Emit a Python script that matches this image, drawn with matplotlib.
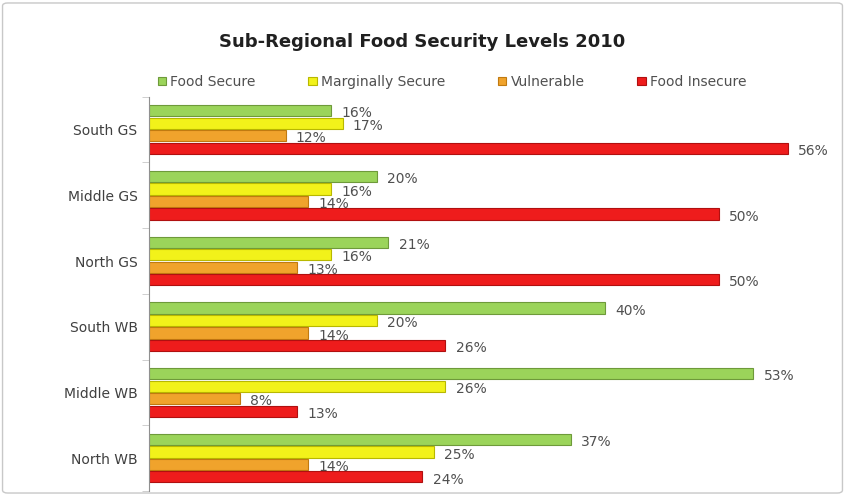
import matplotlib.pyplot as plt
import numpy as np
from matplotlib.patches import FancyBboxPatch

REGIONS = ['South GS', 'Middle GS', 'North GS', 'South WB', 'Middle WB', 'North WB']
SERIES = ['Food Secure', 'Marginally Secure', 'Vulnerable', 'Food Insecure']
FOOD_SECURE = [16, 20, 21, 40, 53, 37]
MARGINALLY_SECURE = [17, 16, 16, 20, 26, 25]
VULNERABLE = [12, 14, 13, 14, 8, 14]
FOOD_INSECURE = [56, 50, 50, 26, 13, 24]
COLORS = ['#9BD45A', '#F2F21A', '#F0A32C', '#EE1C1C']
EDGES = ['#6E9A3A', '#B8B800', '#C07A10', '#B01010']


def main():
    values = [FOOD_SECURE, MARGINALLY_SECURE, VULNERABLE, FOOD_INSECURE]
    fig = plt.figure(figsize=(8.45, 4.96), dpi=100)
    ax = fig.add_axes([0.176, 0.01, 0.81, 0.795])

    border = FancyBboxPatch((0.003, 0.006), 0.994, 0.988, boxstyle='round,pad=0,rounding_size=0.006',
                            transform=fig.transFigure, fill=False, edgecolor='#C8C8C8', linewidth=1)
    fig.patches.append(border)

    y = np.arange(len(REGIONS))
    pitch = 0.19
    height = 0.17
    for idx in range(len(SERIES)):
        pos = y + (idx - 1.5) * pitch
        ax.barh(pos, values[idx], height=height, color=COLORS[idx], edgecolor=EDGES[idx],
                linewidth=0.8, label=SERIES[idx])
        for p, v in zip(pos, values[idx]):
            ax.text(v + 0.9, p + 0.04, '%d%%' % v, va='center', ha='left', fontsize=10, color='#505050')

    ax.set_xlim(0, 60)
    ax.set_ylim(len(REGIONS) - 0.5, -0.5)
    ax.set_yticks(y)
    ax.set_yticklabels(REGIONS, fontsize=10, color='#404040')
    ax.set_yticks(np.arange(len(REGIONS) + 1) - 0.5, minor=True)
    ax.tick_params(axis='y', which='major', length=0, pad=8)
    ax.tick_params(axis='y', which='minor', length=5, color='#C8C8C8')
    ax.set_xticks([])
    for side in ['top', 'right', 'bottom']:
        ax.spines[side].set_visible(False)
    ax.spines['left'].set_color('#909090')

    fig.text(0.5, 0.915, 'Sub-Regional Food Security Levels 2010', ha='center', va='center',
             fontsize=13, fontweight='bold', color='#202020')
    fig.legend(loc='center', bbox_to_anchor=(0.535, 0.835), ncol=4, frameon=False, fontsize=10,
               handlelength=0.6, handleheight=0.6, handletextpad=0.3, columnspacing=3.8,
               labelcolor='#505050')

    plt.savefig('out.png', dpi=100)


if __name__ == "__main__":
    main()
